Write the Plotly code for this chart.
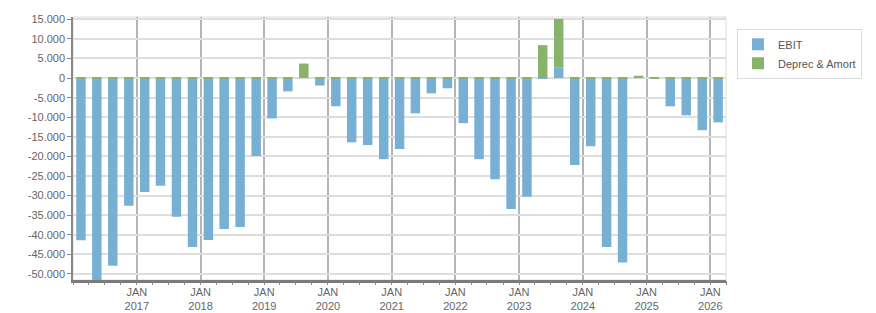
import pandas as pd
import plotly.graph_objects as go

quarters = ["2016Q1", "2016Q2", "2016Q3", "2016Q4",
            "2017Q1", "2017Q2", "2017Q3", "2017Q4",
            "2018Q1", "2018Q2", "2018Q3", "2018Q4",
            "2019Q1", "2019Q2", "2019Q3", "2019Q4",
            "2020Q1", "2020Q2", "2020Q3", "2020Q4",
            "2021Q1", "2021Q2", "2021Q3", "2021Q4",
            "2022Q1", "2022Q2", "2022Q3", "2022Q4",
            "2023Q1", "2023Q2", "2023Q3", "2023Q4",
            "2024Q1", "2024Q2", "2024Q3", "2024Q4",
            "2025Q1", "2025Q2", "2025Q3", "2025Q4",
            "2026Q1"]

ebit = [-41400, -52000, -47900, -32600,
        -29100, -27500, -35400, -43100,
        -41300, -38500, -38000, -19900,
        -10300, -3400, 0, -1900,
        -7200, -16400, -17100, -20700,
        -18100, -9000, -3900, -2600,
        -11500, -20700, -25800, -33400,
        -30300, 200, 2700, -22200,
        -17400, -43100, -47100, 0,
        0, -7200, -9500, -13300,
        -11300]

deprec = [100, 100, 100, 100,
          100, 100, 100, 100,
          100, 100, 100, 100,
          100, 100, 3700, 100,
          100, 100, 100, 100,
          100, 100, 100, 100,
          100, 100, 100, 100,
          100, 8200, 12400, 100,
          100, 100, 100, 600,
          200, 100, 100, 100,
          100]

y_ticks = [15000, 10000, 5000, 0, -5000, -10000, -15000, -20000, -25000,
           -30000, -35000, -40000, -45000, -50000]
year_ticks = [2017, 2018, 2019, 2020, 2021, 2022, 2023, 2024, 2025, 2026]


def mid_quarter(q):
    p = pd.Period(q, freq="Q")
    return p.start_time + (p.end_time - p.start_time) / 2


def fmt(v):
    s = f"{abs(v):,}".replace(",", ".")
    return ("-" if v < 0 else "") + s


x = [mid_quarter(q) for q in quarters]
quarter_starts = [pd.Period(q, freq="Q").start_time for q in quarters] + [pd.Timestamp("2026-04-01")]

BLUE = "#78b0d3"
GREEN = "#89b26b"
FONT = "Liberation Sans"
X_RANGE = ["2016-01-01", "2026-04-01"]

fig = go.Figure()
fig.add_trace(go.Bar(x=x, y=ebit, name="EBIT", marker=dict(color=BLUE, line=dict(width=0))))
fig.add_trace(go.Bar(x=x, y=deprec, name="Deprec & Amort", marker=dict(color=GREEN, line=dict(width=0))))
# empty helper trace so the quarter-tick axis is drawn
fig.add_trace(go.Scatter(x=[], y=[], xaxis="x2", showlegend=False, hoverinfo="skip"))

fig.update_layout(
    width=876, height=313,
    margin=dict(l=73, r=150, t=17, b=33, autoexpand=False),
    barmode="relative",
    bargap=0.4,
    plot_bgcolor="white",
    paper_bgcolor="white",
    font=dict(family=FONT, size=11, color="#666"),
    legend=dict(
        x=1.0168, y=0.955, xanchor="left", yanchor="top",
        bordercolor="#dcdcdc", borderwidth=1,
        font=dict(family=FONT, size=11, color="#555"),
        traceorder="normal",
        tracegroupgap=0,
        itemwidth=30,
    ),
    shapes=[dict(type="rect", xref="paper", yref="paper", x0=0, x1=1, y0=0, y1=1,
                 line=dict(color="#dcdcdc", width=1), layer="below")],
    xaxis=dict(
        type="date",
        automargin=False,
        range=X_RANGE,
        tickvals=[pd.Timestamp(f"{y}-01-01") for y in year_ticks],
        ticktext=[f"JAN<br>{y}" for y in year_ticks],
        ticks="",
        showgrid=True, gridcolor="#b4b4b4", gridwidth=1.5,
        showline=True, linecolor="#7a7a7a", linewidth=2.5,
        tickfont=dict(family=FONT, size=11, color="#666"),
    ),
    xaxis2=dict(
        type="date",
        overlaying="x",
        anchor="y",
        side="bottom",
        automargin=False,
        range=X_RANGE,
        tickvals=quarter_starts,
        ticktext=[""] * len(quarter_starts),
        ticks="outside", ticklen=4, tickcolor="#888", tickwidth=1,
        showgrid=False, showline=False, zeroline=False,
    ),
    yaxis=dict(
        automargin=False,
        range=[-51535, 15590],
        tickvals=y_ticks,
        ticktext=[fmt(v) for v in y_ticks],
        ticks="outside", ticklen=4, tickcolor="#888",
        showgrid=True, gridcolor="#dedede", gridwidth=1.5,
        zeroline=False,
        showline=True, linecolor="#888", linewidth=1.5,
        tickfont=dict(family=FONT, size=11, color="#666"),
    ),
)

fig.write_html("out.html")
